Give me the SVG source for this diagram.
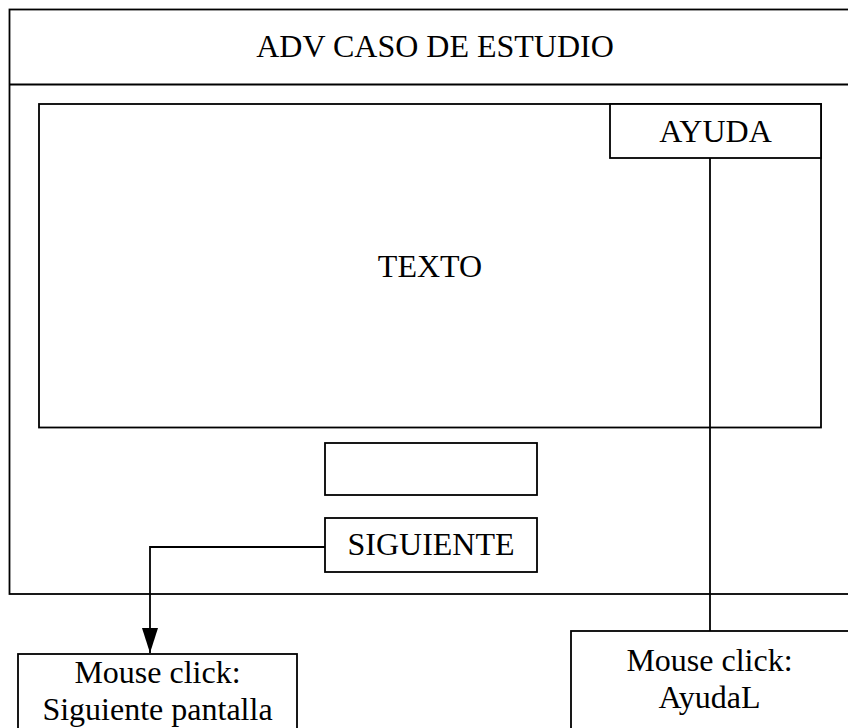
<svg xmlns="http://www.w3.org/2000/svg" width="848" height="728" viewBox="0 0 848 728">
<style>
.box{fill:#fff;stroke:#000;stroke-width:1.8}
.ln{fill:none;stroke:#000;stroke-width:1.8}
text{font-family:"Liberation Serif","Times New Roman",serif;font-size:32px;fill:#000;text-anchor:middle}
</style>
<defs>
<marker id="arr" markerWidth="25" markerHeight="16" refX="25" refY="8" orient="auto" markerUnits="userSpaceOnUse">
<path d="M0,0 L25,8 L0,16 Z" fill="#000"/>
</marker>
</defs>
<rect width="848" height="728" fill="#fff"/>
<g id="pantalla">
<rect class="box" x="9.5" y="9.5" width="850" height="584.5"/>
<line class="ln" x1="9.5" y1="84.5" x2="860" y2="84.5"/>
<text x="435" y="57">ADV CASO DE ESTUDIO</text>
</g>
<g id="texto">
<rect class="box" x="39" y="104" width="782" height="323.5"/>
<text x="430" y="277">TEXTO</text>
</g>
<g id="ayuda">
<rect class="box" x="610" y="104" width="211" height="54"/>
<text x="715.5" y="142">AYUDA</text>
</g>
<g id="vacio">
<rect class="box" x="325" y="443" width="212" height="52"/>
</g>
<g id="siguiente">
<rect class="box" x="325" y="518" width="212" height="54"/>
<text x="431" y="555">SIGUIENTE</text>
</g>
<g id="clickSiguiente">
<rect class="box" x="18" y="654" width="279" height="90"/>
<text x="157.5" y="683">Mouse click:</text>
<text x="157.5" y="720">Siguiente pantalla</text>
</g>
<g id="clickAyuda">
<rect class="box" x="571" y="631" width="290" height="110"/>
<text x="709.5" y="671">Mouse click:</text>
<text x="709.5" y="708">AyudaL</text>
</g>
<g id="connectors">
<polyline class="ln" points="325,547 150,547 150,653" marker-end="url(#arr)"/>
<line class="ln" x1="710" y1="158" x2="710" y2="631"/>
</g>
</svg>
